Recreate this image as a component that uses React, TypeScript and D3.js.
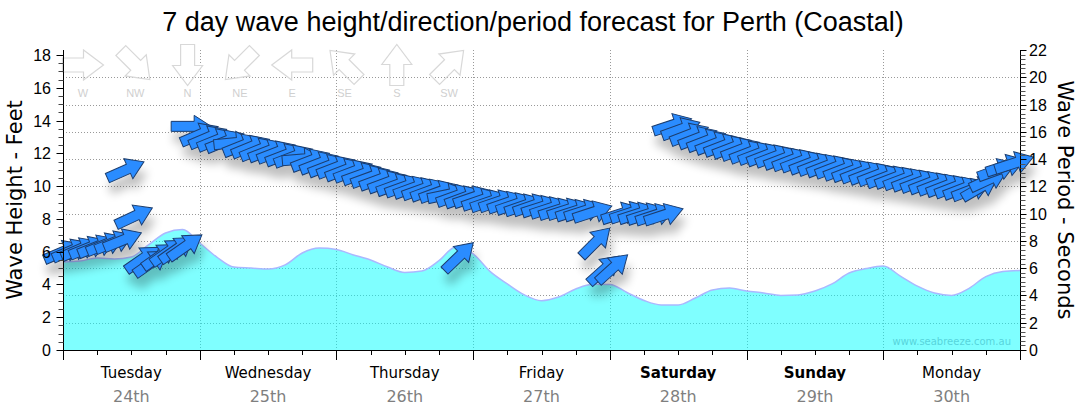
import React from 'react';
import * as d3 from 'd3';

// 7 day wave forecast, Perth (Coastal): wave height area (ft, left) + swell arrows (period s, right)
const WIDTH = 1080;
const HEIGHT = 414;
const M = { left: 63, right: 1020, top: 50, bottom: 350 };

const dayNames = ['Tuesday', 'Wednesday', 'Thursday', 'Friday', 'Saturday', 'Sunday', 'Monday'];
const dayDates = ['24th', '25th', '26th', '27th', '28th', '29th', '30th'];
const weekendDays = ['Saturday', 'Sunday'];

const compassLabels = ['W', 'NW', 'N', 'NE', 'E', 'SE', 'S', 'SW'];
const compassFrom = [270, 315, 0, 45, 90, 135, 180, 225];

// wave height, feet, every 3 hours from Tuesday 00:00
const waveHours = d3.range(0, 169, 3);
const waveHeightFt = [
  5.37, 5.43, 5.61, 5.55, 5.67, 6.41, 7.14, 7.35, 6.53, 5.67, 5.06, 5.0, 4.94, 5.19, 5.92, 6.22,
  6.13, 5.8, 5.49, 5.06, 4.73, 4.82, 5.45, 6.3, 5.86, 4.78, 4.03, 3.36, 3.01, 3.23, 3.72, 4.01,
  4.0, 3.51, 3.02, 2.75, 2.75, 3.17, 3.66, 3.78, 3.6, 3.48, 3.33, 3.36, 3.6, 4.03, 4.7, 4.97,
  5.12, 4.51, 3.9, 3.48, 3.33, 3.75, 4.48, 4.79, 4.85,
];

// swell trains: hour of arrow, period (s), direction it comes from (deg)
const swellBHours = [0, 1.5, 3, 4.5, 6, 7.5, 9, 10.5];
const swellBPeriod = [7.2, 7.3, 7.4, 7.5, 7.6, 7.75, 7.9, 8.05];
const swellBDir = [247, 247, 247, 248, 248, 248, 248, 248];

const swellCHours = [11, 12.5];
const swellCPeriod = [13.2, 9.8];
const swellCDir = [246, 245];

const swellDHours = [14, 15.5, 17, 18.5, 20, 21.5];
const swellDPeriod = [6.7, 6.4, 6.9, 7.2, 7.4, 7.6];
const swellDDir = [235, 235, 235, 235, 235, 235];

const swellAHours = d3.range(22.5, 93.1, 1.5);
const swellAPeriod = [
  16.4, 15.8, 15.6, 15.4, 15.3, 15.2, 15.0, 14.9, 14.7, 14.6, 14.5, 14.3, 14.2, 14.0, 13.9, 13.7,
  13.5, 13.4, 13.2, 13.1, 12.9, 12.7, 12.5, 12.3, 12.1, 12.0, 11.9, 11.8, 11.7, 11.6, 11.4, 11.3,
  11.2, 11.2, 11.0, 10.9, 10.9, 10.8, 10.7, 10.6, 10.6, 10.5, 10.4, 10.3, 10.3, 10.2, 10.2, 10.1,
];
const swellADir = [
  270, 247, 247, 248, 248, 264, 248, 248, 248, 249, 249, 249, 249, 265, 249, 249,
  249, 249, 249, 249, 250, 250, 250, 250, 250, 250, 250, 250, 250, 250, 258, 250,
  250, 251, 251, 251, 251, 251, 251, 251, 251, 252, 252, 252, 252, 252, 252, 252,
];

const swellEHours = [69.5, 93.5, 95, 96.5];
const swellEPeriod = [6.85, 7.9, 5.9, 6.0];
const swellEDir = [226, 225, 228, 228];

const swellGHours = [98, 99.5, 101, 102.5, 104, 105.5];
const swellGPeriod = [10.0, 10.05, 10.0, 9.95, 9.9, 9.9];
const swellGDir = [252, 252, 252, 252, 252, 252];

const swellHHours = d3.range(107, 167.1, 1.5);
const swellHPeriod = [
  16.5, 16.2, 15.8, 15.55, 15.35, 15.15, 15.0, 14.85, 14.7, 14.5, 14.4, 14.3, 14.2, 14.05,
  13.95, 13.85, 13.7, 13.6, 13.5, 13.4, 13.25, 13.15, 13.05, 12.95, 12.85, 12.7, 12.65, 12.55,
  12.45, 12.35, 12.25, 12.15, 12.05, 11.95, 11.85, 11.75, 11.9, 12.5, 13.2, 13.5, 13.7,
];
const swellHDir = [
  252, 250, 249, 249, 249, 249, 249, 249, 249, 249, 249, 249, 249, 249,
  249, 249, 249, 249, 249, 249, 249, 249, 249, 249, 249, 249, 249, 249,
  249, 249, 249, 249, 249, 249, 249, 249, 240, 245, 250, 252, 252,
];

const swellTrains = [
  { hours: swellBHours, period: swellBPeriod, dir: swellBDir },
  { hours: swellCHours, period: swellCPeriod, dir: swellCDir },
  { hours: swellDHours, period: swellDPeriod, dir: swellDDir },
  { hours: swellAHours, period: swellAPeriod, dir: swellADir },
  { hours: swellEHours, period: swellEPeriod, dir: swellEDir },
  { hours: swellGHours, period: swellGPeriod, dir: swellGDir },
  { hours: swellHHours, period: swellHPeriod, dir: swellHDir },
];

const TICK_FONT = 'Liberation Sans, Arial, sans-serif';
const LABEL_FONT = 'DejaVu Sans, Verdana, sans-serif';

// block arrow pointing along +x, centred on origin
function arrowPath(len: number, shaft: number, head: number, headLen: number) {
  const h = len / 2;
  return `M${-h},${-shaft}L${h - headLen},${-shaft}L${h - headLen},${-head}L${h},0L${h - headLen},${head}L${h - headLen},${shaft}L${-h},${shaft}Z`;
}
// compass "from" direction -> svg rotation of an arrow drawn pointing east
const rot = (fromDeg: number) => fromDeg + 180 - 90;

const px = (v: number) => Math.round(v) + 0.5;

export default function App() {
  const x = d3.scaleLinear().domain([0, 168]).range([M.left, M.right]);
  const yFt = d3.scaleLinear().domain([0, 18]).range([M.bottom, 55]);
  const ySec = d3.scaleLinear().domain([0, 22]).range([M.bottom, M.top]);

  const area = d3
    .area<number>()
    .x((_, i) => x(waveHours[i]))
    .y0(M.bottom)
    .y1((d) => yFt(d))
    .curve(d3.curveMonotoneX);
  const line = d3
    .line<number>()
    .x((_, i) => x(waveHours[i]))
    .y((d) => yFt(d))
    .curve(d3.curveMonotoneX);

  const dataArrow = arrowPath(40, 5, 11, 17);
  const legendArrow = arrowPath(41, 7, 15, 20);

  const gridSec = d3.range(2, 21, 2);
  const gridDays = d3.range(24, 168, 24);
  const leftTicks = d3.range(0, 37).map((i) => i / 2);
  const rightTicks = d3.range(0, 67).map((i) => i / 3);
  const bottomTicks = d3.range(0, 169, 6);

  return (
    <svg width={WIDTH} height={HEIGHT} style={{ display: 'block' }}>
      <style>{`body{margin:0}`}</style>
      <defs>
        <filter id="arrowShadow" x="-10%" y="-20%" width="120%" height="160%">
          <feGaussianBlur in="SourceAlpha" stdDeviation="5" />
          <feOffset dx="3" dy="11" result="blur" />
          <feComponentTransfer>
            <feFuncA type="linear" slope="0.25" />
          </feComponentTransfer>
          <feMerge>
            <feMergeNode />
            <feMergeNode in="SourceGraphic" />
          </feMerge>
        </filter>
      </defs>
      <rect width={WIDTH} height={HEIGHT} fill="#fff" />

      {/* title */}
      <text x={533} y={31} textAnchor="middle" fontFamily={TICK_FONT} fontSize={27} fill="#000">
        7 day wave height/direction/period forecast for Perth (Coastal)
      </text>

      {/* grid */}
      {gridSec.map((s) => (
        <line key={'gs' + s} x1={M.left} x2={M.right} y1={px(ySec(s))} y2={px(ySec(s))} stroke="#999" strokeDasharray="1,2" />
      ))}
      {gridDays.map((h) => (
        <line key={'gd' + h} x1={px(x(h))} x2={px(x(h))} y1={M.top} y2={M.bottom} stroke="#999" strokeDasharray="1,2" />
      ))}

      {/* compass legend */}
      {compassLabels.map((lab, i) => {
        const cx = 83 + 52.3 * i;
        return (
          <g key={lab}>
            <path d={legendArrow} transform={`translate(${cx},65) rotate(${rot(compassFrom[i])})`} fill="none" stroke="#d8d8d8" strokeWidth={1.2} />
            <text x={cx} y={97} textAnchor="middle" fontFamily={TICK_FONT} fontSize={11} fill="#d0d0d0">
              {lab}
            </text>
          </g>
        );
      })}

      {/* wave height area */}
      <path d={area(waveHeightFt) ?? ''} fill="#00ffff" fillOpacity={0.5} />
      <path d={line(waveHeightFt) ?? ''} fill="none" stroke="#aab8ff" strokeWidth={1.5} />

      <text x={1011} y={345} textAnchor="end" fontFamily={LABEL_FONT} fontSize={10} fill="#4cc9d2" fillOpacity={0.8}>
        www.seabreeze.com.au
      </text>

      {/* swell arrows */}
      <g filter="url(#arrowShadow)">
        {swellTrains.map((t, ti) =>
          t.hours.map((h, i) => (
            <path
              key={`a${ti}-${i}`}
              d={dataArrow}
              transform={`translate(${x(h)},${ySec(t.period[i])}) rotate(${rot(t.dir[i])})`}
              fill="#2b8cff"
              stroke="#1b3d6e"
              strokeWidth={1}
              strokeLinejoin="miter"
            />
          ))
        )}
      </g>

      {/* left axis */}
      <line x1={px(M.left)} x2={px(M.left)} y1={M.top} y2={M.bottom + 1} stroke="#000" />
      {leftTicks.map((v, i) => (
        <line key={'lt' + i} x1={px(M.left) - (i % 4 === 0 ? 7 : 5)} x2={px(M.left)} y1={px(yFt(v))} y2={px(yFt(v))} stroke={i % 4 === 0 ? '#000' : '#444'} />
      ))}
      {leftTicks.filter((_, i) => i % 4 === 0).map((v) => (
        <text key={'ll' + v} x={51} y={yFt(v) + 6} textAnchor="end" fontFamily={TICK_FONT} fontSize={16} fill="#000">
          {v}
        </text>
      ))}
      <text transform={`translate(22,${200}) rotate(-90)`} textAnchor="middle" fontFamily={LABEL_FONT} fontSize={21} fill="#000">
        Wave Height - Feet
      </text>

      {/* right axis */}
      <line x1={px(M.right)} x2={px(M.right)} y1={M.top} y2={M.bottom + 1} stroke="#000" />
      {rightTicks.map((v, i) => (
        <line key={'rt' + i} x1={px(M.right)} x2={px(M.right) + (i % 6 === 0 ? 6 : 5)} y1={px(ySec(v))} y2={px(ySec(v))} stroke={i % 6 === 0 ? '#000' : '#555'} />
      ))}
      {rightTicks.filter((_, i) => i % 6 === 0).map((v) => (
        <text key={'rl' + v} x={1029} y={ySec(v) + 6} textAnchor="start" fontFamily={TICK_FONT} fontSize={16} fill="#000">
          {Math.round(v)}
        </text>
      ))}
      <text transform={`translate(1058,${200}) rotate(90)`} textAnchor="middle" fontFamily={LABEL_FONT} fontSize={21} fill="#000">
        Wave Period - Seconds
      </text>

      {/* bottom axis */}
      <line x1={M.left} x2={M.right + 1} y1={px(M.bottom)} y2={px(M.bottom)} stroke="#000" />
      {bottomTicks.map((h) => (
        <line key={'bt' + h} x1={px(x(h))} x2={px(x(h))} y1={M.bottom} y2={M.bottom + (h % 24 === 0 ? 10 : 5)} stroke="#000" />
      ))}
      {dayNames.map((d, i) => {
        const cx = x(i * 24 + 12);
        return (
          <g key={d}>
            <text x={cx} y={378} textAnchor="middle" fontFamily={LABEL_FONT} fontSize={15} fontWeight={weekendDays.includes(d) ? 'bold' : 'normal'} fill="#000">
              {d}
            </text>
            <text x={cx} y={402} textAnchor="middle" fontFamily={LABEL_FONT} fontSize={16} fill="#7f7f7f">
              {dayDates[i]}
            </text>
          </g>
        );
      })}
    </svg>
  );
}
